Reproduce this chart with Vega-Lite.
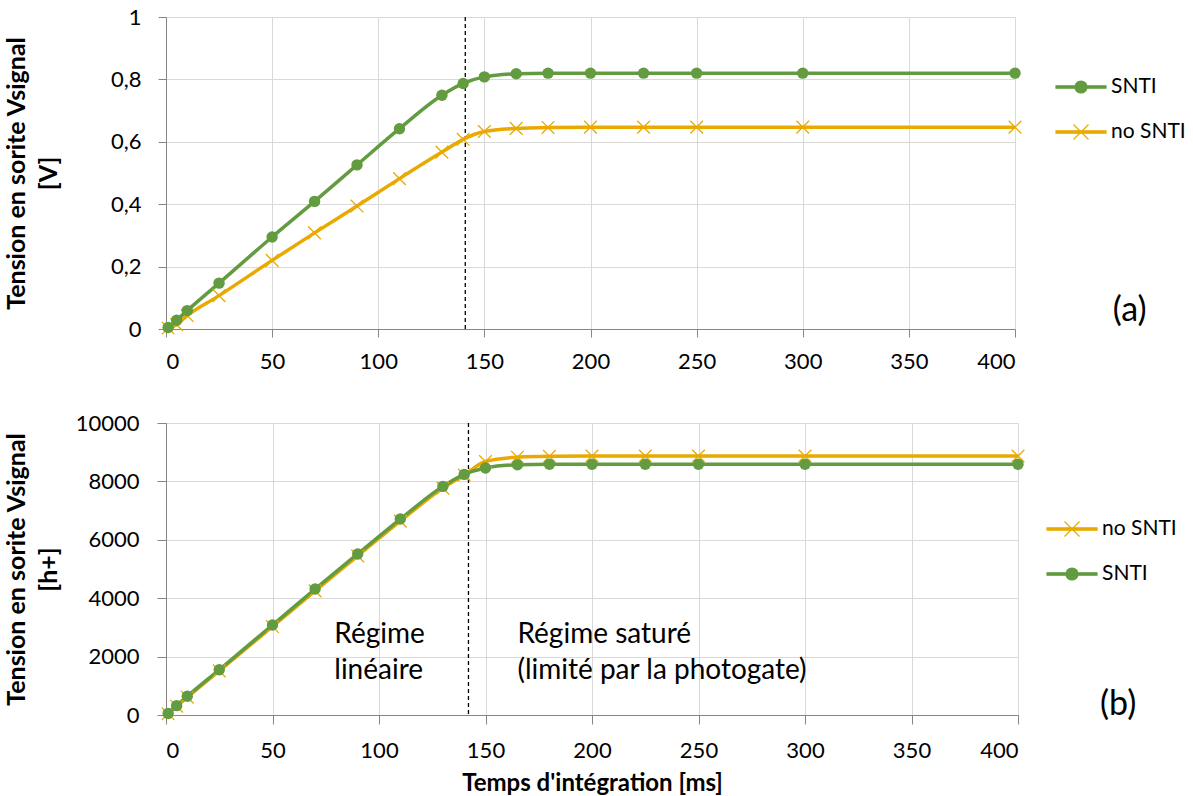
{
  "$schema": "https://vega.github.io/schema/vega-lite/v6.json",
  "background": "white",
  "padding": {"left": 4, "top": 6, "right": 0, "bottom": 0},
  "spacing": 40,
  "config": {
    "font": "Lato",
    "view": {"stroke": null},
    "axis": {
      "gridColor": "#D9D9D9",
      "domainColor": "#868686",
      "tickColor": "#868686",
      "labelColor": "#000000",
      "titleColor": "#000000",
      "labelFontSize": 22,
      "titleFontSize": 25,
      "titleFontWeight": "bold",
      "labelFont": "Lato",
      "titleFont": "Lato"
    },
    "legend": {"labelFont": "Lato"}
  },
  "resolve": {"scale": {"color": "independent", "x": "independent", "y": "independent"}, "legend": {"color": "independent"}},
  "datasets": {
    "a": [
      {"t": 1, "v": 0.005, "s": "SNTI"}, {"t": 5, "v": 0.028, "s": "SNTI"}, {"t": 10, "v": 0.059, "s": "SNTI"}, {"t": 25, "v": 0.147, "s": "SNTI"}, {"t": 50, "v": 0.295, "s": "SNTI"}, {"t": 70, "v": 0.409, "s": "SNTI"}, {"t": 90, "v": 0.526, "s": "SNTI"}, {"t": 110, "v": 0.642, "s": "SNTI"}, {"t": 130, "v": 0.749, "s": "SNTI"}, {"t": 140, "v": 0.787, "s": "SNTI"}, {"t": 150, "v": 0.808, "s": "SNTI"}, {"t": 165, "v": 0.818, "s": "SNTI"}, {"t": 180, "v": 0.82, "s": "SNTI"}, {"t": 200, "v": 0.82, "s": "SNTI"}, {"t": 225, "v": 0.82, "s": "SNTI"}, {"t": 250, "v": 0.82, "s": "SNTI"}, {"t": 300, "v": 0.82, "s": "SNTI"}, {"t": 400, "v": 0.82, "s": "SNTI"},
      {"t": 1, "v": 0.003, "s": "no SNTI"}, {"t": 5, "v": 0.014, "s": "no SNTI"}, {"t": 10, "v": 0.043, "s": "no SNTI"}, {"t": 25, "v": 0.107, "s": "no SNTI"}, {"t": 50, "v": 0.22, "s": "no SNTI"}, {"t": 70, "v": 0.308, "s": "no SNTI"}, {"t": 90, "v": 0.394, "s": "no SNTI"}, {"t": 110, "v": 0.482, "s": "no SNTI"}, {"t": 130, "v": 0.567, "s": "no SNTI"}, {"t": 140, "v": 0.608, "s": "no SNTI"}, {"t": 150, "v": 0.633, "s": "no SNTI"}, {"t": 165, "v": 0.643, "s": "no SNTI"}, {"t": 180, "v": 0.646, "s": "no SNTI"}, {"t": 200, "v": 0.647, "s": "no SNTI"}, {"t": 225, "v": 0.647, "s": "no SNTI"}, {"t": 250, "v": 0.647, "s": "no SNTI"}, {"t": 300, "v": 0.647, "s": "no SNTI"}, {"t": 400, "v": 0.647, "s": "no SNTI"}
    ],
    "b": [
      {"t": 1, "v": 50, "s": "SNTI"}, {"t": 5, "v": 320, "s": "SNTI"}, {"t": 10, "v": 640, "s": "SNTI"}, {"t": 25, "v": 1550, "s": "SNTI"}, {"t": 50, "v": 3080, "s": "SNTI"}, {"t": 70, "v": 4315, "s": "SNTI"}, {"t": 90, "v": 5515, "s": "SNTI"}, {"t": 110, "v": 6710, "s": "SNTI"}, {"t": 130, "v": 7830, "s": "SNTI"}, {"t": 140, "v": 8240, "s": "SNTI"}, {"t": 150, "v": 8460, "s": "SNTI"}, {"t": 165, "v": 8570, "s": "SNTI"}, {"t": 180, "v": 8585, "s": "SNTI"}, {"t": 200, "v": 8585, "s": "SNTI"}, {"t": 225, "v": 8585, "s": "SNTI"}, {"t": 250, "v": 8585, "s": "SNTI"}, {"t": 300, "v": 8585, "s": "SNTI"}, {"t": 400, "v": 8585, "s": "SNTI"},
      {"t": 1, "v": 40, "s": "no SNTI"}, {"t": 5, "v": 300, "s": "no SNTI"}, {"t": 10, "v": 610, "s": "no SNTI"}, {"t": 25, "v": 1510, "s": "no SNTI"}, {"t": 50, "v": 3030, "s": "no SNTI"}, {"t": 70, "v": 4250, "s": "no SNTI"}, {"t": 90, "v": 5450, "s": "no SNTI"}, {"t": 110, "v": 6640, "s": "no SNTI"}, {"t": 130, "v": 7770, "s": "no SNTI"}, {"t": 140, "v": 8220, "s": "no SNTI"}, {"t": 150, "v": 8680, "s": "no SNTI"}, {"t": 165, "v": 8830, "s": "no SNTI"}, {"t": 180, "v": 8860, "s": "no SNTI"}, {"t": 200, "v": 8870, "s": "no SNTI"}, {"t": 225, "v": 8870, "s": "no SNTI"}, {"t": 250, "v": 8870, "s": "no SNTI"}, {"t": 300, "v": 8870, "s": "no SNTI"}, {"t": 400, "v": 8870, "s": "no SNTI"}
    ]
  },
  "vconcat": [
    {
      "width": 849,
      "height": 312,
      "layer": [
        {
          "data": {"values": [{"t": 141}]},
          "mark": {"type": "rule", "strokeDash": [4, 3], "color": "#000000", "strokeWidth": 1.3},
          "encoding": {
            "x": {"field": "t", "type": "quantitative", "scale": {"domain": [0, 400], "nice": false},
              "axis": {"title": null, "values": [0, 50, 100, 150, 200, 250, 300, 350, 400], "tickSize": 8, "labelPadding": 14}}
          }
        },
        {
          "data": {"name": "a"},
          "transform": [{"filter": "datum.s === 'no SNTI'"}],
          "mark": {"type": "line", "interpolate": "monotone", "strokeWidth": 3.5},
          "encoding": {
            "x": {"field": "t", "type": "quantitative"},
            "y": {"field": "v", "type": "quantitative", "scale": {"domain": [0, 1], "nice": false},
              "axis": {"title": ["Tension en sorite Vsignal", "[V]"], "titleLineHeight": 32, "values": [0, 0.2, 0.4, 0.6, 0.8, 1],
                "labelExpr": "replace(format(datum.value, '~g'), '.', ',')", "tickSize": 8, "labelPadding": 17, "titlePadding": 49}},
            "color": {"field": "s", "type": "nominal",
              "scale": {"domain": ["SNTI", "no SNTI"], "range": ["#629B40", "#E8AA00"]},
              "legend": {"orient": "none", "legendX": 889, "legendY": 44, "direction": "vertical", "title": null,
                "symbolSize": 2500, "labelFontSize": 21, "labelColor": "#000000", "labelOffset": 4, "rowPadding": 9,
                "encode": {"symbols": {"update": {
                  "shape": {"signal": "datum.value === 'SNTI' ? 'M-1,-0.05H1V0.05H-1Z M-0.24,0A0.24,0.24 0 1,1 0.24,0A0.24,0.24 0 1,1 -0.24,0Z' : 'M-1,-0.05H1V0.05H-1Z M-0.3,-0.3L0.3,0.3M-0.3,0.3L0.3,-0.3'"},
                  "fill": {"signal": "datum.value === 'SNTI' ? '#629B40' : '#E8AA00'"},
                  "stroke": {"signal": "datum.value === 'SNTI' ? '#629B40' : '#E8AA00'"},
                  "strokeWidth": {"value": 1.2},
                  "opacity": {"value": 1}
                }}}}
            }
          }
        },
        {
          "data": {"name": "a"},
          "transform": [{"filter": "datum.s === 'SNTI'"}],
          "mark": {"type": "line", "interpolate": "monotone", "strokeWidth": 3.5},
          "encoding": {
            "x": {"field": "t", "type": "quantitative"},
            "y": {"field": "v", "type": "quantitative"},
            "color": {"field": "s", "type": "nominal"}
          }
        },
        {
          "data": {"name": "a"},
          "transform": [{"filter": "datum.s === 'no SNTI'"}],
          "mark": {"type": "point", "shape": "M-1,-1L1,1M-1,1L1,-1", "size": 160, "filled": false, "strokeWidth": 1.3, "color": "#E8AA00", "opacity": 1},
          "encoding": {
            "x": {"field": "t", "type": "quantitative"},
            "y": {"field": "v", "type": "quantitative"}
          }
        },
        {
          "data": {"name": "a"},
          "transform": [{"filter": "datum.s === 'SNTI'"}],
          "mark": {"type": "circle", "size": 130, "color": "#629B40", "opacity": 1},
          "encoding": {
            "x": {"field": "t", "type": "quantitative"},
            "y": {"field": "v", "type": "quantitative"}
          }
        },
        {
          "data": {"values": [{"x": 454, "y": 0.058, "label": "(a)"}]},
          "mark": {"type": "text", "fontSize": 34, "font": "Lato", "color": "#000000", "align": "center", "baseline": "middle"},
          "encoding": {
            "x": {"field": "x", "type": "quantitative"},
            "y": {"field": "y", "type": "quantitative"},
            "text": {"field": "label"}
          }
        }
      ]
    },
    {
      "width": 852,
      "height": 292,
      "layer": [
        {
          "data": {"values": [{"t": 142}]},
          "mark": {"type": "rule", "strokeDash": [4, 3], "color": "#000000", "strokeWidth": 1.3},
          "encoding": {
            "x": {"field": "t", "type": "quantitative", "scale": {"domain": [0, 400], "nice": false},
              "axis": {"title": "Temps d'intégration [ms]", "titleFontSize": 24, "values": [0, 50, 100, 150, 200, 250, 300, 350, 400], "tickSize": 9, "labelPadding": 16, "titlePadding": 10}}
          }
        },
        {
          "data": {"name": "b"},
          "transform": [{"filter": "datum.s === 'no SNTI'"}],
          "mark": {"type": "line", "interpolate": "monotone", "strokeWidth": 3.5},
          "encoding": {
            "x": {"field": "t", "type": "quantitative"},
            "y": {"field": "v", "type": "quantitative", "scale": {"domain": [0, 10000], "nice": false},
              "axis": {"title": ["Tension en sorite Vsignal", "[h+]"], "titleLineHeight": 32, "values": [0, 2000, 4000, 6000, 8000, 10000],
                "format": "d", "tickSize": 9, "labelPadding": 18, "titlePadding": 14}},
            "color": {"field": "s", "type": "nominal",
              "scale": {"domain": ["no SNTI", "SNTI"], "range": ["#E8AA00", "#629B40"]},
              "legend": {"orient": "none", "legendX": 880, "legendY": 80, "direction": "vertical", "title": null,
                "symbolSize": 2500, "labelFontSize": 21, "labelColor": "#000000", "labelOffset": 4, "rowPadding": 9,
                "encode": {"symbols": {"update": {
                  "shape": {"signal": "datum.value === 'SNTI' ? 'M-1,-0.05H1V0.05H-1Z M-0.24,0A0.24,0.24 0 1,1 0.24,0A0.24,0.24 0 1,1 -0.24,0Z' : 'M-1,-0.05H1V0.05H-1Z M-0.3,-0.3L0.3,0.3M-0.3,0.3L0.3,-0.3'"},
                  "fill": {"signal": "datum.value === 'SNTI' ? '#629B40' : '#E8AA00'"},
                  "stroke": {"signal": "datum.value === 'SNTI' ? '#629B40' : '#E8AA00'"},
                  "strokeWidth": {"value": 1.2},
                  "opacity": {"value": 1}
                }}}}
            }
          }
        },
        {
          "data": {"name": "b"},
          "transform": [{"filter": "datum.s === 'SNTI'"}],
          "mark": {"type": "line", "interpolate": "monotone", "strokeWidth": 3.5},
          "encoding": {
            "x": {"field": "t", "type": "quantitative"},
            "y": {"field": "v", "type": "quantitative"},
            "color": {"field": "s", "type": "nominal"}
          }
        },
        {
          "data": {"name": "b"},
          "transform": [{"filter": "datum.s === 'no SNTI'"}],
          "mark": {"type": "point", "shape": "M-1,-1L1,1M-1,1L1,-1", "size": 160, "filled": false, "strokeWidth": 1.3, "color": "#E8AA00", "opacity": 1},
          "encoding": {
            "x": {"field": "t", "type": "quantitative"},
            "y": {"field": "v", "type": "quantitative"}
          }
        },
        {
          "data": {"name": "b"},
          "transform": [{"filter": "datum.s === 'SNTI'"}],
          "mark": {"type": "circle", "size": 130, "color": "#629B40", "opacity": 1},
          "encoding": {
            "x": {"field": "t", "type": "quantitative"},
            "y": {"field": "v", "type": "quantitative"}
          }
        },
        {
          "data": {"values": [
            {"x": 79, "y": 2740, "label": "Régime"},
            {"x": 79, "y": 1507, "label": "linéaire"},
            {"x": 165, "y": 2740, "label": "Régime saturé"},
            {"x": 165, "y": 1507, "label": "(limité par la photogate)"}
          ]},
          "mark": {"type": "text", "fontSize": 28, "font": "Lato", "color": "#000000", "align": "left", "baseline": "middle"},
          "encoding": {
            "x": {"field": "x", "type": "quantitative"},
            "y": {"field": "y", "type": "quantitative"},
            "text": {"field": "label"}
          }
        },
        {
          "data": {"values": [{"x": 447, "y": 342, "label": "(b)"}]},
          "mark": {"type": "text", "fontSize": 34, "font": "Lato", "color": "#000000", "align": "center", "baseline": "middle"},
          "encoding": {
            "x": {"field": "x", "type": "quantitative"},
            "y": {"field": "y", "type": "quantitative"},
            "text": {"field": "label"}
          }
        }
      ]
    }
  ]
}
